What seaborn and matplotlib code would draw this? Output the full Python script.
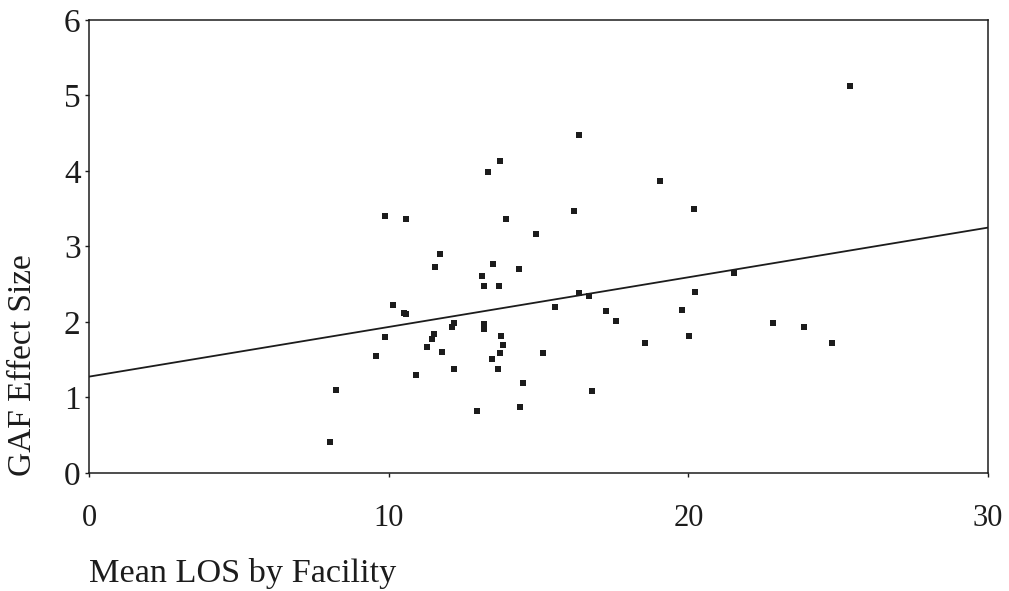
"""
GAF effect size vs mean length of stay (LOS) by facility.
Scatter of facilities with fitted linear trend line.
"""

import numpy as np
import pandas as pd
import matplotlib
matplotlib.use("Agg")
import matplotlib.pyplot as plt
import seaborn as sns

# ============================================================
# Data
# ============================================================

mean_los = [
    16.36, 13.70, 13.32, 9.87, 10.59, 13.93, 16.19, 14.92, 11.72, 11.54,
    13.48, 14.35, 13.10, 13.17, 13.69, 16.35, 16.67, 15.56, 10.15, 10.51,
    10.57, 17.25, 17.60, 12.19, 12.13, 13.18, 13.18, 9.87, 11.51, 11.44,
    11.27, 13.75, 13.81, 13.70, 13.46, 13.64, 11.79, 9.59, 15.16, 18.55,
    10.91, 12.18, 8.24, 14.49, 16.78, 14.39, 12.95, 8.05, 25.39, 19.06,
    20.20, 21.53, 20.22, 19.78, 20.02, 22.83, 23.85, 24.79,
]
gaf_effect = [
    4.47, 4.13, 3.99, 3.41, 3.36, 3.37, 3.47, 3.16, 2.90, 2.73,
    2.77, 2.70, 2.61, 2.48, 2.48, 2.38, 2.35, 2.20, 2.22, 2.12,
    2.11, 2.14, 2.01, 1.98, 1.93, 1.97, 1.91, 1.80, 1.84, 1.77,
    1.67, 1.81, 1.70, 1.59, 1.51, 1.38, 1.60, 1.55, 1.59, 1.72,
    1.30, 1.38, 1.10, 1.19, 1.09, 0.88, 0.82, 0.41, 5.12, 3.87,
    3.50, 2.65, 2.40, 2.16, 1.81, 1.99, 1.94, 1.72,
]

# Fitted trend line (intercept / slope as shown on the chart)
fit_intercept = 1.276
fit_slope = 0.0658
fit_range = [0, 30]

x_ticks = [0, 10, 20, 30]
y_ticks = [0, 1, 2, 3, 4, 5, 6]

df = pd.DataFrame({"los": mean_los, "gaf": gaf_effect})
fit_x = np.array(fit_range, dtype=float)
fit_df = pd.DataFrame({"los": fit_x, "gaf": fit_intercept + fit_slope * fit_x})

# ============================================================
# Plot
# ============================================================

sns.set_theme(style="ticks")
plt.rcParams["font.family"] = ["Liberation Serif", "DejaVu Serif"]

ink = "#1c1c1c"

fig = plt.figure(figsize=(10.09, 5.91), dpi=100)
ax = fig.add_axes([0.0882, 0.1997, 0.891, 0.7665])

sns.scatterplot(data=df, x="los", y="gaf", marker="s", s=24,
                color=ink, edgecolor=ink, linewidth=0, ax=ax)
sns.lineplot(data=fit_df, x="los", y="gaf", color=ink, linewidth=1.3, ax=ax)

ax.set_xlim(0, 30)
ax.set_ylim(0, 6)
ax.set_xticks(x_ticks)
ax.set_yticks(y_ticks)

for side in ["top", "right", "bottom", "left"]:
    ax.spines[side].set_visible(True)
    ax.spines[side].set_color(ink)
    ax.spines[side].set_linewidth(1.1)

ax.tick_params(axis="x", length=3, width=1, color=ink, pad=19,
               labelsize=22, labelcolor=ink)
ax.tick_params(axis="y", length=3, width=1, color=ink, pad=3,
               labelsize=24, labelcolor=ink)

ax.set_xlabel("Mean LOS by Facility", fontsize=24.7, color=ink, loc="left")
ax.xaxis.label.set_va("baseline")
ax.xaxis.set_label_coords(0.0, -0.2406)

ax.set_ylabel("GAF Effect Size", fontsize=24, color=ink)
ax.yaxis.label.set_va("baseline")
ax.yaxis.set_label_coords(-0.065, 0.238)

plt.savefig("out.png", dpi=100, facecolor="white")
